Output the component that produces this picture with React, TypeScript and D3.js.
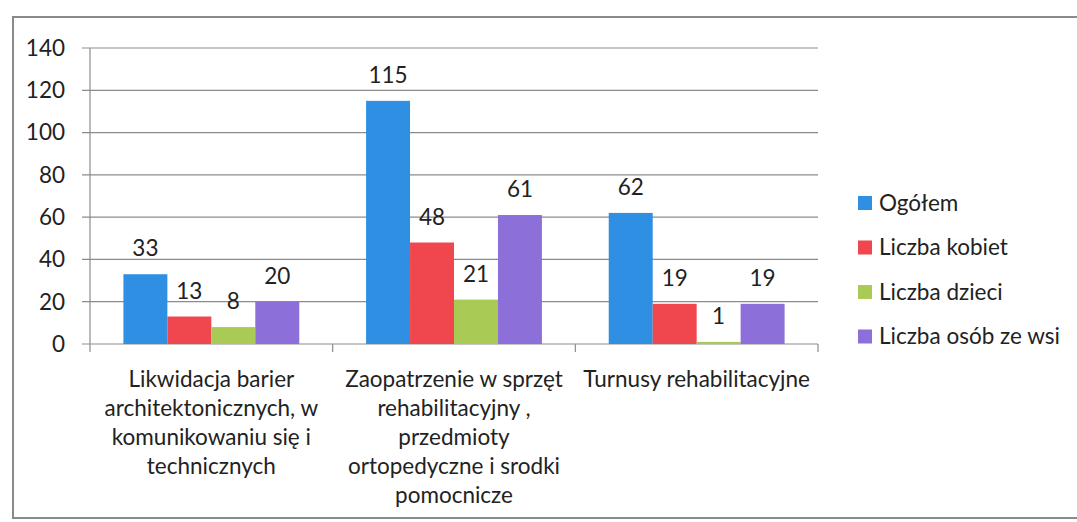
import React, { useEffect, useRef } from 'react';
import * as d3 from 'd3';

const categories = [
  ['Likwidacja barier', 'architektonicznych, w', 'komunikowaniu się i', 'technicznych'],
  ['Zaopatrzenie w sprzęt', 'rehabilitacyjny ,', 'przedmioty', 'ortopedyczne i srodki', 'pomocnicze'],
  ['Turnusy rehabilitacyjne'],
];
const seriesNames = ['Ogółem', 'Liczba kobiet', 'Liczba dzieci', 'Liczba osób ze wsi'];
const seriesColors = ['#2f8fe3', '#f0474f', '#a9cb55', '#8c6fd8'];
const ogolem = [33, 115, 62];
const kobiety = [13, 48, 19];
const dzieci = [8, 21, 1];
const wies = [20, 61, 19];
const yTicks = [0, 20, 40, 60, 80, 100, 120, 140];

const App = () => {
  const ref = useRef<SVGSVGElement>(null);

  useEffect(() => {
    const svg = d3.select(ref.current);
    svg.selectAll('*').remove();

    const font = 'Lato, "Open Sans", sans-serif';
    const fs = 22.5;
    const left = 90,
      right = 818,
      top = 48,
      bottom = 344;

    const values = [ogolem, kobiety, dzieci, wies];
    const catIdx = categories.map((_, i) => String(i));

    const x = d3.scaleBand().domain(catIdx).range([left, right]).paddingInner(0).paddingOuter(0);
    const inner = d3
      .scaleBand()
      .domain(seriesNames)
      .range([0, x.bandwidth()])
      .paddingOuter(0.76)
      .paddingInner(0);
    const y = d3.scaleLinear().domain([0, 140]).range([bottom, top]);

    // frame
    svg
      .append('rect')
      .attr('x', 13)
      .attr('y', 17)
      .attr('width', 1100)
      .attr('height', 501)
      .attr('fill', 'none')
      .attr('stroke', '#8a8a8a')
      .attr('stroke-width', 2);

    // gridlines + tick labels
    const g = svg.append('g');
    g.selectAll('line.grid')
      .data(yTicks)
      .join('line')
      .attr('x1', left - 8)
      .attr('x2', right)
      .attr('y1', (d) => y(d))
      .attr('y2', (d) => y(d))
      .attr('stroke', '#8c8c8c')
      .attr('stroke-width', 1.2);

    g.selectAll('text.tick')
      .data(yTicks)
      .join('text')
      .attr('x', 65)
      .attr('y', (d) => y(d))
      .attr('dy', '0.35em')
      .attr('text-anchor', 'end')
      .attr('font-family', font)
      .attr('font-size', fs)
      .attr('fill', '#222')
      .text((d) => d);

    // y axis line
    g.append('line')
      .attr('x1', left)
      .attr('x2', left)
      .attr('y1', top)
      .attr('y2', bottom)
      .attr('stroke', '#8c8c8c')
      .attr('stroke-width', 1.2);

    // category tick marks
    g.selectAll('line.ctick')
      .data([...catIdx.map((c) => x(c)), right])
      .join('line')
      .attr('x1', (d) => d)
      .attr('x2', (d) => d)
      .attr('y1', bottom)
      .attr('y2', bottom + 8)
      .attr('stroke', '#8c8c8c')
      .attr('stroke-width', 1.2);

    // bars
    values.forEach((vals, si) => {
      const s = seriesNames[si];
      const bars = svg.append('g');
      bars
        .selectAll('rect')
        .data(vals)
        .join('rect')
        .attr('x', (d, i) => x(String(i)) + inner(s))
        .attr('y', (d) => y(d))
        .attr('width', inner.bandwidth())
        .attr('height', (d) => bottom - y(d))
        .attr('fill', seriesColors[si]);
      bars
        .selectAll('text')
        .data(vals)
        .join('text')
        .attr('x', (d, i) => x(String(i)) + inner(s) + inner.bandwidth() / 2)
        .attr('y', (d) => y(d) - 18)
        .attr('text-anchor', 'middle')
        .attr('font-family', font)
        .attr('font-size', fs)
        .attr('fill', '#222')
        .text((d) => d);
    });

    // category labels
    categories.forEach((lines, i) => {
      const t = svg
        .append('text')
        .attr('text-anchor', 'middle')
        .attr('font-family', font)
        .attr('font-size', fs)
        .attr('fill', '#222');
      lines.forEach((ln, li) => {
        t.append('tspan')
          .attr('x', x(String(i)) + x.bandwidth() / 2)
          .attr('y', 387 + li * 29)
          .text(ln);
      });
    });

    // legend
    const leg = svg.append('g');
    seriesNames.forEach((s, i) => {
      const ly = 203 + i * 44.5;
      leg
        .append('rect')
        .attr('x', 858)
        .attr('y', ly - 7)
        .attr('width', 14)
        .attr('height', 14)
        .attr('fill', seriesColors[i]);
      leg
        .append('text')
        .attr('x', 879)
        .attr('y', ly)
        .attr('dy', '0.35em')
        .attr('font-family', font)
        .attr('font-size', fs)
        .attr('fill', '#222')
        .text(s);
    });
  }, []);

  return (
    <div style={{ position: 'absolute', left: 0, top: 0 }}>
      <svg ref={ref} width={1077} height={522} style={{ display: 'block', background: '#fff' }} />
    </div>
  );
};

export default App;
